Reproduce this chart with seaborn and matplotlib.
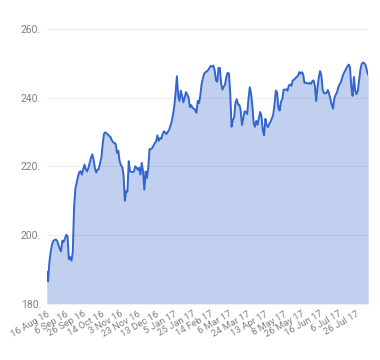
import matplotlib
matplotlib.use("Agg")
import matplotlib.pyplot as plt
import pandas as pd
import seaborn as sns

# closing prices, one per trading day
prices = [
    189.4, 186.5, 192.0, 195.0, 197.2, 198.2, 198.6, 198.7, 198.3, 197.2,
    196.0, 195.3, 198.4, 198.0, 199.0, 200.1, 199.6, 193.0, 193.6, 192.6,
    195.0, 208.0, 213.5, 215.3, 217.0, 218.3, 218.6, 217.6, 219.0, 220.5,
    219.2, 218.5, 219.5, 221.0, 222.5, 223.5, 222.0, 219.5, 218.2, 219.0,
    219.3, 221.0, 222.6, 226.5, 229.5, 229.9, 229.6, 229.2, 228.9, 228.5,
    227.6, 227.0, 226.8, 226.5, 223.9, 224.5, 221.5, 220.3, 219.8, 217.6,
    210.0, 212.8, 212.6, 221.5, 218.5, 218.4, 218.3, 218.5, 220.0, 219.6,
    219.0, 219.6, 217.6, 221.0, 218.5, 213.2, 218.5, 216.6, 219.5, 225.0,
    225.0, 225.3, 226.0, 226.8, 227.2, 229.0, 227.4, 228.2, 228.0, 229.3,
    230.2, 229.8, 229.4, 230.0, 230.6, 231.8, 233.0, 235.0, 237.5, 241.5,
    246.2, 240.5, 239.0, 242.0, 240.5, 238.6, 240.0, 241.6, 240.8, 240.0,
    237.2, 237.8, 237.0, 236.8, 236.4, 235.6, 239.0, 238.4, 240.6, 244.0,
    245.6, 247.0, 247.4, 247.6, 248.0, 248.6, 249.2, 249.0, 249.3, 248.0,
    245.0, 244.6, 248.6, 248.6, 244.0, 242.3, 243.2, 243.8, 246.0, 247.2,
    247.0, 241.0, 231.5, 233.5, 234.2, 238.5, 239.5, 238.0, 237.9, 236.3,
    232.0, 234.0, 236.0, 235.8, 235.2, 239.6, 243.0, 241.2, 237.5, 232.5,
    231.5, 233.2, 232.1, 234.0, 235.8, 234.5, 230.5, 229.0, 233.8, 232.0,
    231.4, 232.4, 233.0, 234.0, 235.0, 238.0, 242.0, 241.5, 237.0, 236.2,
    238.8, 239.5, 242.3, 242.3, 242.4, 242.0, 243.5, 243.8, 243.4, 245.0,
    245.2, 245.6, 246.0, 246.3, 247.4, 247.0, 247.4, 246.8, 244.2, 244.4,
    244.2, 244.0, 244.3, 244.0, 244.7, 245.0, 243.5, 239.0, 242.8, 245.8,
    247.7, 246.5, 242.3, 241.3, 241.2, 241.4, 242.2, 241.0, 239.5, 237.8,
    236.8, 239.9, 240.8, 241.5, 243.0, 243.8, 244.5, 245.8, 246.9, 247.6,
    248.4, 249.0, 249.6, 248.8, 243.0, 240.5, 246.0, 242.0, 241.0, 242.0,
    245.0, 248.1, 249.8, 250.2, 250.0, 249.4, 247.8, 246.6,
]

# a label every 14 trading days
date_labels = [
    "16 Aug 16", "6 Sep 16", "26 Sep 16", "14 Oct 16", "3 Nov 16",
    "23 Nov 16", "13 Dec 16", "5 Jan 17", "25 Jan 17", "14 Feb 17",
    "6 Mar 17", "24 Mar 17", "13 Apr 17", "8 May 17", "26 May 17",
    "16 Jun 17", "6 Jul 17", "26 Jul 17",
]
y_ticks = [180, 200, 220, 240, 260]

df = pd.DataFrame({"day": range(len(prices)), "price": prices})

sns.set_style("white")
plt.rcParams["font.family"] = ["Roboto", "DejaVu Sans"]

line_color = "#3366CC"
text_color = "#808080"

fig = plt.figure(figsize=(3.8, 3.6), dpi=100)
ax = fig.add_axes([0.123, 0.156, 0.846, 0.764])

for v in y_ticks:
    ax.axhline(v, color="#EEEEEE", lw=0.8, zorder=0)

ax.fill_between(df["day"], 180, df["price"], color=line_color, alpha=0.3,
                lw=0, zorder=1)
sns.lineplot(data=df, x="day", y="price", ax=ax, color=line_color,
             lw=1.4, zorder=2)

ax.set_xlim(0, len(prices) - 1)
ax.set_ylim(180, 260)
ax.set_yticks(y_ticks)
ax.set_yticklabels([f"{v}." for v in y_ticks], fontsize=7.5, color=text_color)
ax.set_xticks(range(0, 14 * len(date_labels), 14))
ax.set_xticklabels(date_labels, fontsize=6.8, color=text_color,
                   rotation=30, ha="right", rotation_mode="anchor")
ax.tick_params(length=0, pad=4)
ax.set_xlabel("")
ax.set_ylabel("")
sns.despine(ax=ax, left=True, bottom=True, top=True, right=True)

fig.savefig("out.png", dpi=100)
